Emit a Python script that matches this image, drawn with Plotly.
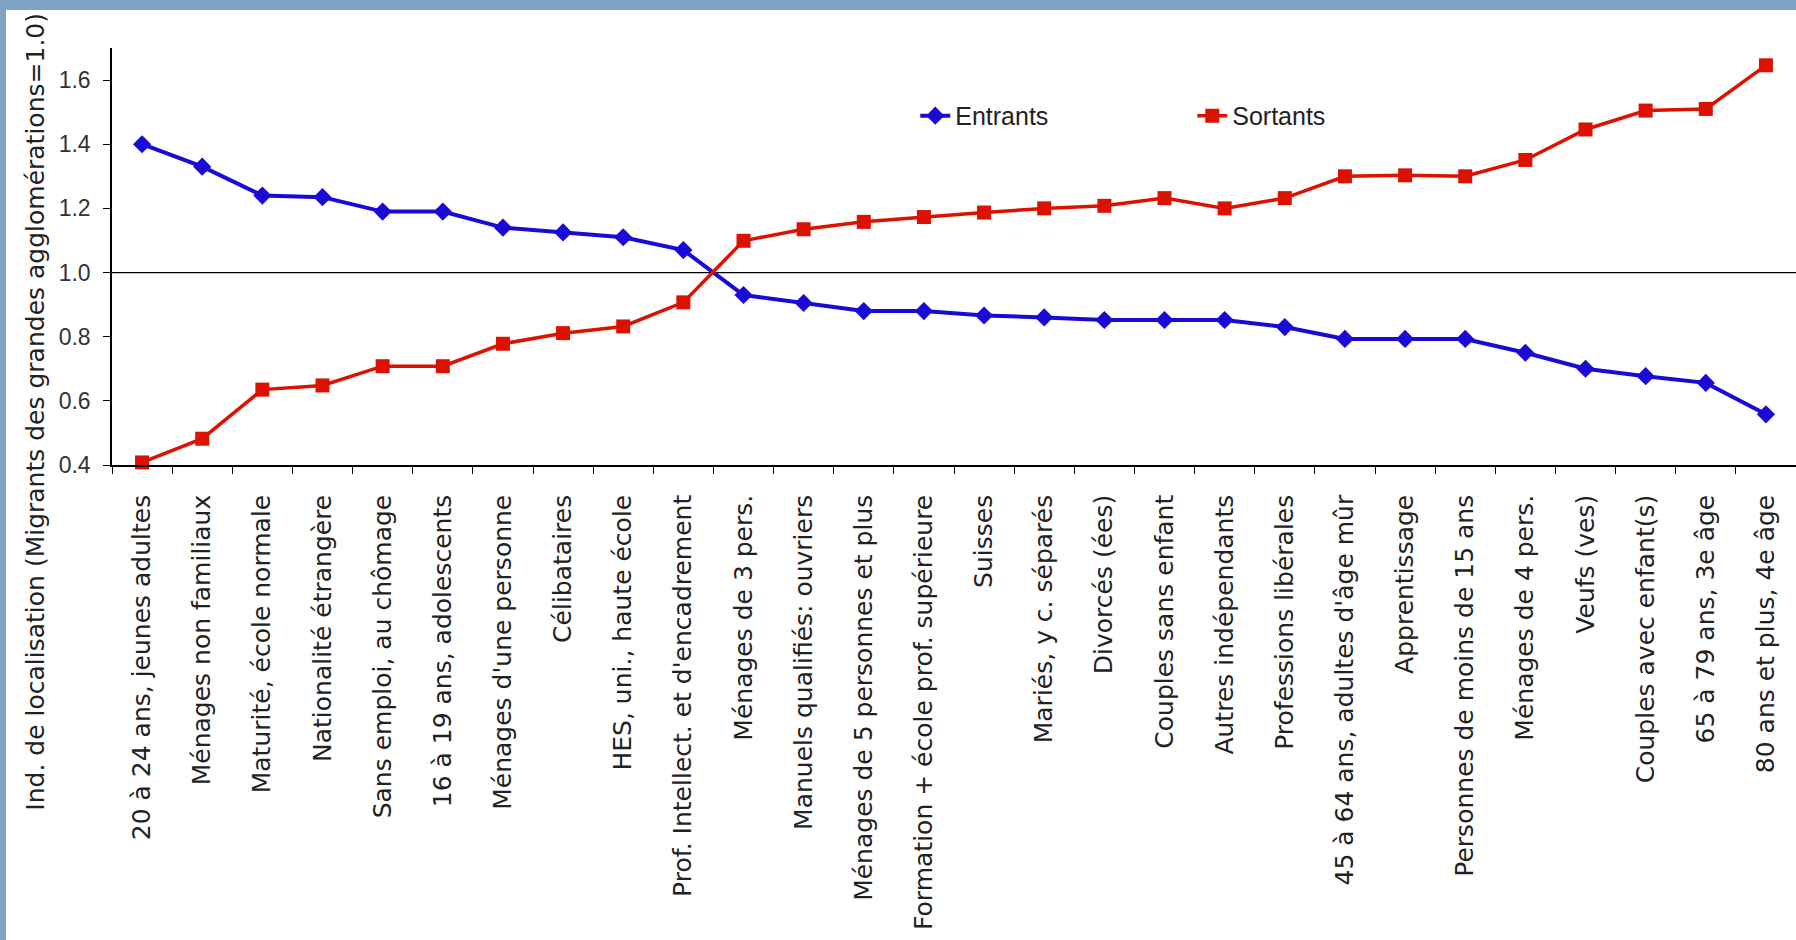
import plotly.graph_objects as go

categories = [
    "20 à 24 ans, jeunes adultes",
    "Ménages non familiaux",
    "Maturité, école normale",
    "Nationalité étrangère",
    "Sans emploi, au chômage",
    "16 à 19 ans, adolescents",
    "Ménages d'une personne",
    "Célibataires",
    "HES, uni., haute école",
    "Prof. Intellect. et d'encadrement",
    "Ménages de 3 pers.",
    "Manuels qualifiés: ouvriers",
    "Ménages de 5 personnes et plus",
    "Formation + école prof. supérieure",
    "Suisses",
    "Mariés, y c. séparés",
    "Divorcés (ées)",
    "Couples sans enfant",
    "Autres indépendants",
    "Professions libérales",
    "45 à 64 ans, adultes d'âge mûr",
    "Apprentissage",
    "Personnes de moins de 15 ans",
    "Ménages de 4 pers.",
    "Veufs (ves)",
    "Couples avec enfant(s)",
    "65 à 79 ans, 3e âge",
    "80 ans et plus, 4e âge",
]

entrants = [1.40, 1.33, 1.24, 1.235, 1.19, 1.19, 1.14, 1.125, 1.11, 1.07,
            0.93, 0.905, 0.88, 0.88, 0.866, 0.86, 0.852, 0.852, 0.852, 0.83,
            0.793, 0.793, 0.793, 0.75, 0.70, 0.677, 0.656, 0.558]

sortants = [0.408, 0.482, 0.635, 0.648, 0.708, 0.708, 0.778, 0.811, 0.832, 0.907,
            1.099, 1.135, 1.158, 1.173, 1.187, 1.20, 1.208, 1.232, 1.20, 1.232,
            1.30, 1.303, 1.30, 1.351, 1.446, 1.505, 1.51, 1.646]

series_names = ["Entrants", "Sortants"]
y_ticks = [0.4, 0.6, 0.8, 1.0, 1.2, 1.4, 1.6]
y_title = "Ind. de localisation (Migrants des grandes agglomérations=1.0)"
reference_value = 1.0

BLUE = "#1a0ad6"
RED = "#dd1100"
FRAME = "#7fa3c6"

fig = go.Figure()
fig.add_trace(go.Scatter(
    x=categories, y=entrants, name=series_names[0], mode="lines+markers",
    line=dict(color=BLUE, width=4),
    marker=dict(symbol="diamond", size=14, color=BLUE),
    cliponaxis=False,
))
fig.add_trace(go.Scatter(
    x=categories, y=sortants, name=series_names[1], mode="lines+markers",
    line=dict(color=RED, width=3.5),
    marker=dict(symbol="square", size=14, color=RED),
    cliponaxis=False,
))

# reference line at 1.0
fig.add_shape(type="line", xref="paper", x0=0, x1=1, yref="y",
              y0=reference_value, y1=reference_value,
              line=dict(color="black", width=1.3), layer="below")

# blue frame bands (top and left)
fig.add_shape(type="rect", xref="paper", x0=-1, x1=2,
              yref="paper", ysizemode="pixel", yanchor=1, y0=38, y1=60,
              fillcolor=FRAME, line=dict(width=0))
fig.add_shape(type="rect", yref="paper", y0=-3, y1=3,
              xref="paper", xsizemode="pixel", xanchor=0, x0=-120, x1=-106,
              fillcolor=FRAME, line=dict(width=0))

fig.add_annotation(
    text=y_title, textangle=-90, showarrow=False,
    xref="paper", yref="paper", x=-0.0451, y=0.128,
    xanchor="center", yanchor="middle",
    font=dict(family="DejaVu Sans", size=25, color="#222222"),
)

fig.update_layout(
    width=1796, height=940,
    margin=dict(l=112, r=0, t=48, b=475, autoexpand=False),
    paper_bgcolor="white", plot_bgcolor="white",
    showlegend=True,
    legend=dict(
        orientation="h", x=0.477, y=0.837, xanchor="left", yanchor="middle",
        font=dict(family="Liberation Sans, Arial", size=25, color="#222222"),
        entrywidth=232, entrywidthmode="pixels",
        bgcolor="rgba(0,0,0,0)", itemclick=False,
    ),
    xaxis=dict(
        type="category", categoryorder="array", categoryarray=categories,
        range=[-0.5, len(categories) - 0.5],
        showline=True, linecolor="black", linewidth=1.5,
        ticks="outside", tickson="boundaries", ticklen=7, tickcolor="black",
        tickwidth=1.3, tickangle=-90, ticklabelstandoff=18,
        tickfont=dict(family="DejaVu Sans", size=25, color="#222222"),
        showgrid=False, zeroline=False, automargin=False,
    ),
    yaxis=dict(
        range=[0.4, 1.7], tickvals=y_ticks, tickformat=".1f",
        showline=True, linecolor="black", linewidth=1.5,
        ticks="outside", ticklen=7, tickcolor="black", tickwidth=1.3,
        ticklabelstandoff=8,
        tickfont=dict(family="Liberation Sans, Arial", size=23, color="#333333"),
        showgrid=False, zeroline=False, automargin=False,
    ),
)

fig.write_html(
    "out.html",
    config={"displayModeBar": False},
    post_script="document.body.style.margin='0';document.body.style.overflow='hidden';",
)
